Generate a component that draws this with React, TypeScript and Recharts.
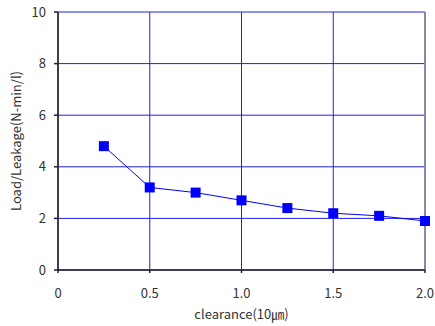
import React from "react";
import {
  LineChart,
  Line,
  XAxis,
  YAxis,
  CartesianGrid,
  ReferenceLine,
} from "recharts";

const clearance = [0.25, 0.5, 0.75, 1.0, 1.25, 1.5, 1.75, 2.0];
const loadLeakage = [4.8, 3.2, 3.0, 2.7, 2.4, 2.2, 2.1, 1.9];
const xTicks = [0, 0.5, 1.0, 1.5, 2.0];
const yTicks = [0, 2, 4, 6, 8, 10];

const data = clearance.map((c, i) => ({ c, v: loadLeakage[i] }));

const FONT = "'Noto Sans CJK KR', 'Noto Sans', sans-serif";
const BLUE = "#0000ff";
const GRID = "#2020e6";

const SquareDot = (props: any) => {
  const { cx, cy } = props;
  if (cx == null || cy == null) return null;
  return <rect x={cx - 5} y={cy - 5} width={10} height={10} fill={BLUE} />;
};

export default function App() {
  return (
    <div style={{ position: "absolute", left: 0, top: 0, background: "#fff" }}>
      <LineChart
        width={435}
        height={326}
        data={data}
        margin={{ top: 12, right: 10, bottom: 0, left: 0 }}
      >
        <CartesianGrid stroke={GRID} strokeWidth={1} />
        <XAxis
          dataKey="c"
          type="number"
          domain={[0, 2]}
          ticks={xTicks}
          tickFormatter={(v: number) => (v === 0 ? "0" : v.toFixed(1))}
          height={56}
          stroke="#222"
          strokeWidth={1.5}
          tickSize={3}
          tickMargin={16}
          tick={{ fill: "#333", fontSize: 13, fontFamily: FONT }}
          label={{
            value: "clearance(10㎛)",
            position: "insideBottom",
            offset: 7,
            fill: "#333",
            fontSize: 13,
            fontFamily: FONT,
          }}
        />
        <YAxis
          type="number"
          domain={[0, 10]}
          ticks={yTicks}
          width={58}
          stroke="#222"
          strokeWidth={1.5}
          tickSize={4}
          tickMargin={8}
          tick={{ fill: "#333", fontSize: 13, fontFamily: FONT }}
          label={{
            value: "Load/Leakage(N-min/l)",
            angle: -90,
            position: "insideLeft",
            offset: 16,
            style: { textAnchor: "middle" },
            fill: "#333",
            fontSize: 13,
            fontFamily: FONT,
          }}
        />
        <ReferenceLine x={2} stroke="#888" strokeWidth={1.5} />
        <Line
          dataKey="v"
          stroke={BLUE}
          strokeWidth={1}
          dot={<SquareDot />}
          isAnimationActive={false}
        />
      </LineChart>
    </div>
  );
}
